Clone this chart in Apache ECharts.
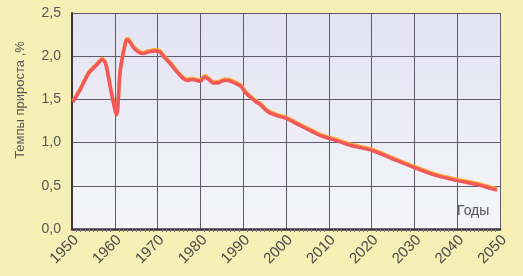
<!DOCTYPE html>
<html>
<head>
<meta charset="utf-8">
<script src="https://cdn.jsdelivr.net/npm/echarts@6/dist/echarts.min.js"></script>
<style>
  html, body { margin: 0; padding: 0; background: #f6f0b6; }
  #chart { width: 523px; height: 276px; }
</style>
</head>
<body>
<div id="chart"></div>
<script>
// years and growth rate, %
const years = [1950.2, 1952, 1953, 1954, 1955, 1956, 1957, 1957.8, 1958.5, 1959.3, 1960.4, 1961.2, 1961.8, 1962.6, 1963, 1963.7, 1964.5, 1965.5, 1966.5, 1968, 1969.5, 1970.5,
  1971.5, 1973, 1974.5, 1976, 1977, 1978, 1979, 1980, 1981, 1982, 1983, 1984, 1985.5, 1986.5, 1988, 1989.5, 1990.5,
  1992, 1993, 1994, 1995, 1996, 1998, 2000, 2002, 2004, 2006, 2008, 2010, 2012, 2015, 2020, 2025, 2030, 2035, 2040, 2045, 2049.3];
const rates = [1.47, 1.62, 1.72, 1.81, 1.86, 1.91, 1.96, 1.92, 1.76, 1.55, 1.32, 1.80, 1.99, 2.17, 2.19, 2.15, 2.09, 2.05, 2.03, 2.05, 2.06, 2.05,
  1.99, 1.91, 1.82, 1.74, 1.72, 1.73, 1.72, 1.71, 1.76, 1.73, 1.69, 1.69, 1.72, 1.72, 1.69, 1.65, 1.58,
  1.51, 1.47, 1.44, 1.39, 1.35, 1.31, 1.28, 1.23, 1.18, 1.13, 1.08, 1.05, 1.02, 0.97, 0.91, 0.81, 0.71, 0.62, 0.56, 0.51, 0.45];
const yTicks = [0, 0.5, 1, 1.5, 2, 2.5];
const axisTitle = 'Темпы прироста ,%';
const xTitle = 'Годы';

const chart = echarts.init(document.getElementById('chart'));
const points = years.map((y, i) => [y, rates[i]]);
const font = '"Liberation Sans", Arial, sans-serif';

chart.setOption({
  backgroundColor: '#f6f0b6',
  animation: false,
  grid: {
    left: 72, right: 23, top: 13, bottom: 47, show: true, borderWidth: 0,
    backgroundColor: new echarts.graphic.LinearGradient(0, 0, 0, 1, [
      { offset: 0, color: '#e3e3f1' }, { offset: 1, color: '#f5f5fb' }
    ])
  },
  xAxis: {
    type: 'value', min: 1950, max: 2050, interval: 10,
    axisLine: { show: true, lineStyle: { color: '#3c3644', width: 2.5 } },
    axisTick: { show: false },
    minorTick: { show: true, splitNumber: 10, length: 3, lineStyle: { color: '#7a7480' } },
    splitLine: { show: true, lineStyle: { color: '#5e5a6a', width: 1 } },
    axisLabel: { rotate: 45, fontSize: 15, color: '#4a4a4a', fontFamily: font, margin: 13,
      padding: [0, -6, 0, 0], formatter: v => String(v) }
  },
  yAxis: {
    type: 'value', min: yTicks[0], max: yTicks[yTicks.length - 1], interval: 0.5,
    axisLine: { show: true, lineStyle: { color: '#3c3644', width: 2 } },
    axisTick: { show: false },
    splitLine: { show: true, lineStyle: { color: '#5e5a6a', width: 1 } },
    axisLabel: { fontSize: 14, color: '#555', fontFamily: font, margin: 11,
      formatter: v => v.toFixed(1).replace('.', ',') }
  },
  graphic: [
    { type: 'text', x: 20, y: 100, rotation: Math.PI / 2,
      style: { text: axisTitle, fontSize: 13, fill: '#555', fontFamily: font, align: 'center', verticalAlign: 'middle' } },
    { type: 'text', x: 457, y: 204,
      style: { text: xTitle, fontSize: 14, fill: '#555', fontFamily: font } }
  ],
  series: [{
    type: 'line', data: points, showSymbol: false, smooth: 0.3,
    lineStyle: { color: '#f2585a', width: 3.5, shadowColor: '#f8ab35', shadowOffsetY: -1.2, shadowBlur: 0 }
  }]
});
</script>
</body>
</html>
